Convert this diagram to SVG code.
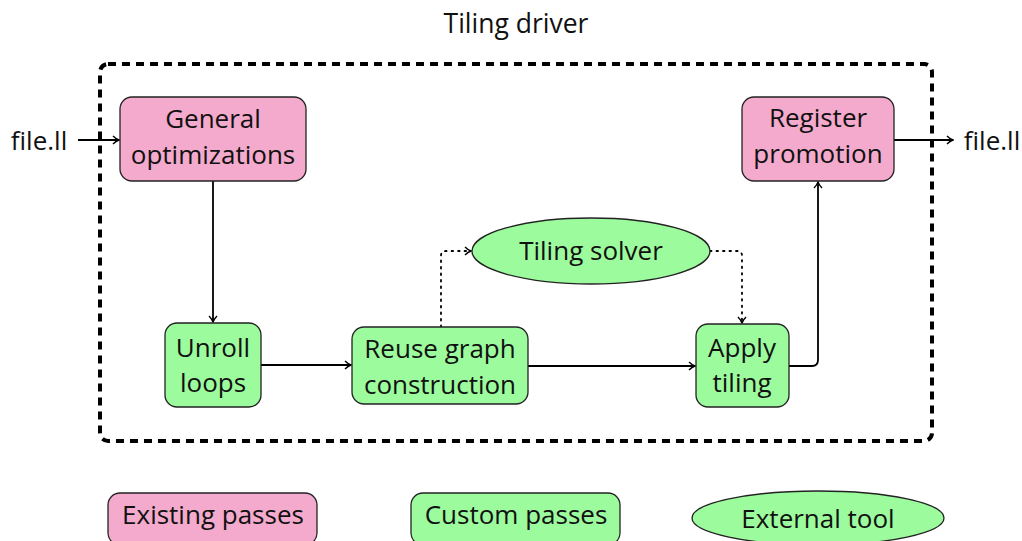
<svg xmlns="http://www.w3.org/2000/svg" width="1022" height="541" viewBox="0 0 1022 541">
<style>
text{font-family:"Open Sans","DejaVu Sans",sans-serif;font-size:26px;fill:#111;text-anchor:middle}
.pink{fill:#f4aacc;stroke:#222;stroke-width:1.3}
.green{fill:#9cfb9c;stroke:#222;stroke-width:1.3}
.c{fill:none;stroke:#000;stroke-width:1.8}
.d{fill:none;stroke:#000;stroke-width:1.8;stroke-dasharray:1.5 5;stroke-linecap:round}
</style>
<defs>
<marker id="a" viewBox="0 0 10 10" refX="9" refY="5" markerWidth="10" markerHeight="10" markerUnits="userSpaceOnUse" orient="auto">
<path d="M3,1 Q6,4 9,5 Q6,6 3,9" fill="none" stroke="#000" stroke-width="1.4"/>
</marker>
</defs>
<text x="516" y="33" style="font-size:26.5px">Tiling driver</text>
<rect x="100" y="64" width="832" height="377" rx="8" fill="none" stroke="#000" stroke-width="4" stroke-dasharray="8 6"/>
<g id="connectors">
<path class="c" d="M78,140 H119" marker-end="url(#a)"/>
<path class="c" d="M213,181 V322" marker-end="url(#a)"/>
<path class="c" d="M261,365 H351" marker-end="url(#a)"/>
<path class="c" d="M528,366 H695" marker-end="url(#a)"/>
<path class="d" d="M441,327 V256 Q441,251 446,251 H471" marker-end="url(#a)"/>
<path class="d" d="M710,251 H737 Q742,251 742,256 V323" marker-end="url(#a)"/>
<path class="c" d="M789,366 H812 Q818,366 818,360 V182" marker-end="url(#a)"/>
<path class="c" d="M894,140 H953" marker-end="url(#a)"/>
</g>
<g id="in"><text x="39" y="150">file.ll</text></g>
<g id="out"><text x="992" y="150">file.ll</text></g>
<g id="general"><rect class="pink" x="120" y="97" width="186" height="84" rx="12"/><text x="213" y="128">General</text><text x="213" y="164">optimizations</text></g>
<g id="register"><rect class="pink" x="742" y="97" width="152" height="84" rx="12"/><text x="818" y="127">Register</text><text x="818" y="163">promotion</text></g>
<g id="unroll"><rect class="green" x="165" y="323" width="96" height="84" rx="12"/><text x="213" y="357">Unroll</text><text x="213" y="392">loops</text></g>
<g id="reuse"><rect class="green" x="352" y="327" width="176" height="77" rx="12"/><text x="440" y="358">Reuse graph</text><text x="440" y="394">construction</text></g>
<g id="apply"><rect class="green" x="696" y="324" width="93" height="83" rx="12"/><text x="742" y="357">Apply</text><text x="742" y="392">tiling</text></g>
<g id="solver"><ellipse class="green" cx="591" cy="251" rx="119" ry="33"/><text x="591" y="260">Tiling solver</text></g>
<g id="legend-existing"><rect class="pink" x="108" y="493" width="209" height="52" rx="12"/><text x="213" y="524">Existing passes</text></g>
<g id="legend-custom"><rect class="green" x="411" y="493" width="209" height="52" rx="12"/><text x="516" y="524">Custom passes</text></g>
<g id="legend-external"><ellipse class="green" cx="818" cy="518" rx="126" ry="27"/><text x="818" y="528">External tool</text></g>
</svg>
